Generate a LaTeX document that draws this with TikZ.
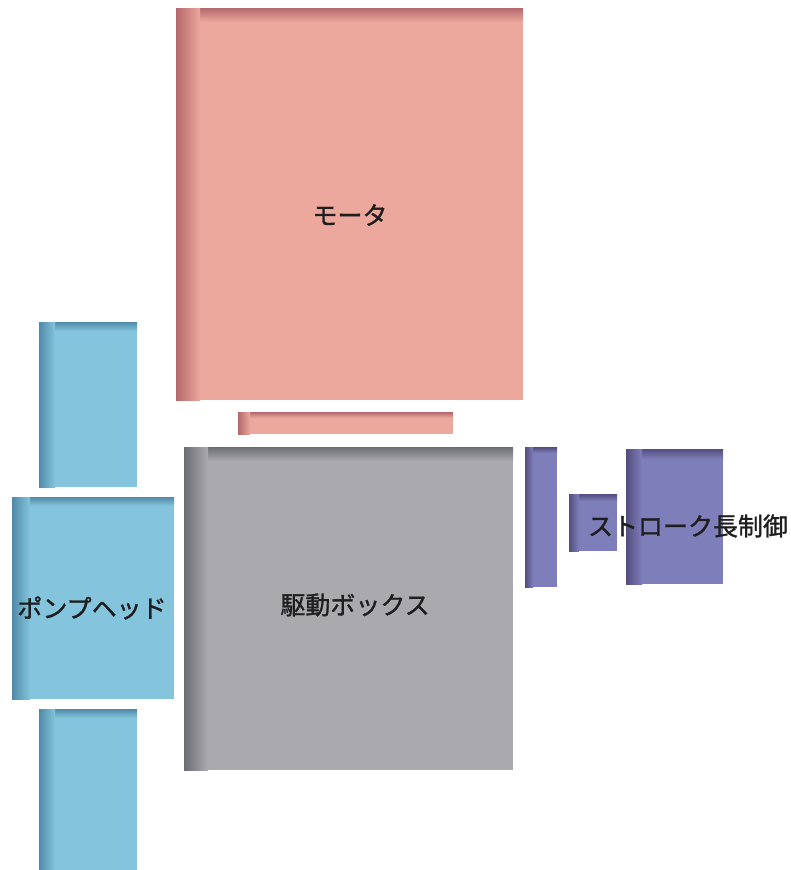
\documentclass[tikz,border=0pt]{standalone}
\usepackage{fontspec}
\newfontfamily\jp[FakeBold=1.2]{Noto Sans CJK JP}
\definecolor{redbase}{RGB}{236,168,156}
\definecolor{reddark}{RGB}{180,104,108}
\definecolor{bluebase}{RGB}{132,196,220}
\definecolor{bluedark}{RGB}{80,138,168}
\definecolor{graybase}{RGB}{170,170,174}
\definecolor{graydark}{RGB}{108,108,116}
\definecolor{purbase}{RGB}{126,126,186}
\definecolor{purdark}{RGB}{84,78,126}
\definecolor{txt}{RGB}{30,30,30}
\tikzset{lbl/.style={font=\jp\fontsize{25}{28}\selectfont, text=txt, inner sep=0pt}}
% \mypanel{x1}{y1}{x2}{y2}{base}{dark}{top edge}{left edge}
\newcommand{\mypanel}[8]{%
  \fill[#5] (#1,#2) rectangle (#3,#4);
  \shade[top color=#6, bottom color=#5] (#1,#2) rectangle (#3,#2+#7);
  \shade[left color=#6, right color=#5] (#1,#2) rectangle (#1+#8,#4);
}
\begin{document}
\begin{tikzpicture}[x=1pt,y=-1pt]
\useasboundingbox (0,0) rectangle (791,870);
% motor
\mypanel{176}{8}{523}{400}{redbase}{reddark}{14}{24}
\mypanel{238}{412}{453}{434}{redbase}{reddark}{6}{12}
% drive box
\mypanel{184}{447}{513}{770}{graybase}{graydark}{14}{24}
% stroke control
\mypanel{525}{447}{557}{587}{purbase}{purdark}{6}{8}
\mypanel{569}{494}{617}{551}{purbase}{purdark}{7}{10}
\mypanel{626}{449}{723}{584}{purbase}{purdark}{10}{16}
% pump head
\mypanel{39}{322}{137}{487}{bluebase}{bluedark}{9}{16}
\mypanel{12}{497}{174}{699}{bluebase}{bluedark}{9}{18}
\mypanel{39}{709}{137}{870}{bluebase}{bluedark}{9}{16}
% labels
\node[lbl] (motor) at (350,215) {モータ};
\node[lbl] (drive) at (355,605) {駆動ボックス};
\node[lbl] (pump) at (92,608) {ポンプヘッド};
\node[lbl] (stroke) at (688,526) {ストローク長制御};
\end{tikzpicture}
\end{document}
